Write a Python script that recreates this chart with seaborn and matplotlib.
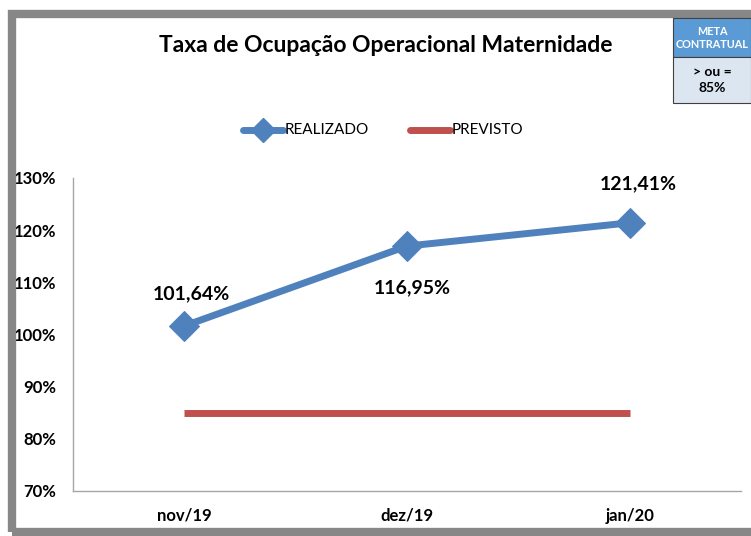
import pandas as pd
import matplotlib.pyplot as plt
import seaborn as sns
from matplotlib.patches import Rectangle
from matplotlib.ticker import FuncFormatter

# Dados do gráfico
meses = ["nov/19", "dez/19", "jan/20"]
realizado = [101.64, 116.95, 121.41]
previsto = [85, 85, 85]
rotulos = ["101,64%", "116,95%", "121,41%"]

df = pd.DataFrame({"Mes": meses, "REALIZADO": realizado, "PREVISTO": previsto})

sns.set_theme(style="white")
plt.rcParams["font.family"] = ["Lato", "DejaVu Sans"]
plt.rcParams["text.color"] = "black"
plt.rcParams["xtick.color"] = "black"
plt.rcParams["ytick.color"] = "black"

azul = "#4F81BD"
vermelho = "#C0504D"

fig = plt.figure(figsize=(7.51, 5.36), dpi=100)
ax = fig.add_axes([73 / 751, 1 - 491 / 536, (741 - 73) / 751, (491 - 178) / 536])

# Linhas
sns.lineplot(x="Mes", y="PREVISTO", data=df, ax=ax, color=vermelho, linewidth=5,
             solid_capstyle="butt", sort=False)
sns.lineplot(x="Mes", y="REALIZADO", data=df, ax=ax, color=azul, linewidth=5,
             marker="D", markersize=15, markeredgecolor=azul, sort=False)

ax.set_xlim(-0.5, 2.5)
ax.set_ylim(70, 130)
ax.set_yticks(range(70, 131, 10))
ax.yaxis.set_major_formatter(FuncFormatter(lambda v, p: f"{v:.0f}%"))
ax.set_xlabel("")
ax.set_ylabel("")
ax.tick_params(axis="both", length=0, labelsize=12, labelcolor="black")
ax.tick_params(axis="y", pad=12)
ax.tick_params(axis="x", pad=12)
for lbl in ax.get_xticklabels() + ax.get_yticklabels():
    lbl.set_fontweight("bold")
for lado in ["top", "right"]:
    ax.spines[lado].set_visible(False)
for lado in ["left", "bottom"]:
    ax.spines[lado].set_color("#A6A6A6")
    ax.spines[lado].set_linewidth(1)

# Rótulos de dados
desloc = [(5, 23), (3.5, -30), (6, 28)]
for i, (txt, (dx, dy)) in enumerate(zip(rotulos, desloc)):
    ax.annotate(txt, (i, realizado[i]), xytext=(dx, dy), textcoords="offset points",
                ha="center", va="center", fontsize=14, fontweight="bold", color="black")

# Título
fig.text(386 / 751, 1 - 46 / 536, "Taxa de Ocupação Operacional Maternidade",
         ha="center", va="center", fontsize=16.5, fontweight="bold", color="black")

# Legenda
leg_y = 1 - 130 / 536
fig.add_artist(plt.Line2D([243 / 751, 263 / 751, 283 / 751], [leg_y] * 3, color=azul,
                          linewidth=5, marker="D", markersize=12, markevery=[1],
                          transform=fig.transFigure))
fig.text(285 / 751, leg_y, "REALIZADO", ha="left", va="center", fontsize=11)
fig.add_artist(plt.Line2D([410 / 751, 450 / 751], [leg_y, leg_y], color=vermelho, linewidth=5,
                          transform=fig.transFigure))
fig.text(452 / 751, leg_y, "PREVISTO", ha="left", va="center", fontsize=11)

# Moldura cinza
fig.add_artist(Rectangle((12 / 751, 1 - 532 / 536), 760 / 751, 518 / 536,
                         transform=fig.transFigure, fill=False,
                         edgecolor="#878787", linewidth=6))

# Caixa META CONTRATUAL
x0, x1 = 673 / 751, 751 / 751
fig.add_artist(Rectangle((x0, 1 - 57 / 536), x1 - x0, 39 / 536, transform=fig.transFigure,
                         facecolor="#5B9BD5", edgecolor="#404040", linewidth=0.8))
fig.add_artist(Rectangle((x0, 1 - 103 / 536), x1 - x0, 46 / 536, transform=fig.transFigure,
                         facecolor="#DCE6F1", edgecolor="#404040", linewidth=0.8))
fig.text(712 / 751, 1 - 38 / 536, "META\nCONTRATUAL", ha="center", va="center",
         fontsize=7.8, fontweight="bold", color="white", linespacing=1.3)
fig.text(712 / 751, 1 - 80 / 536, "> ou =\n85%", ha="center", va="center",
         fontsize=10, fontweight="bold", color="black", linespacing=1.4)

fig.savefig("out.png", dpi=100)
